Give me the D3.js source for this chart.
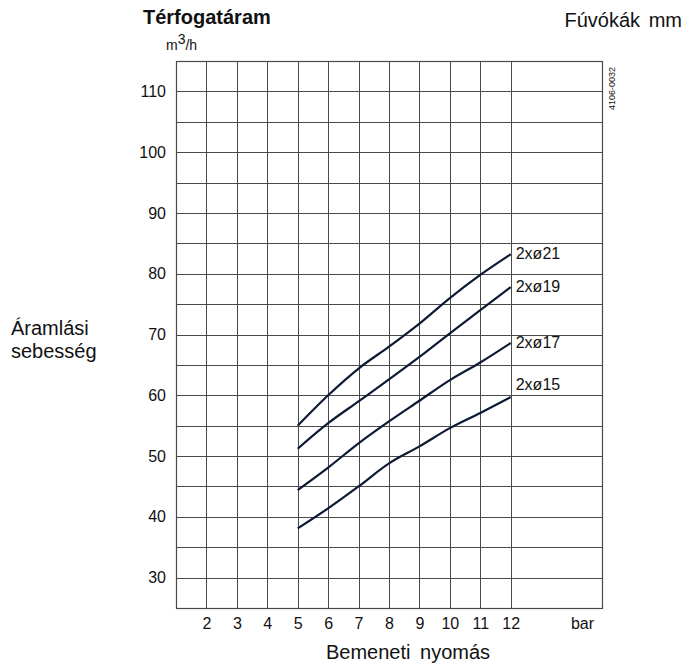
<!DOCTYPE html>
<html>
<head>
<meta charset="utf-8">
<script src="https://cdn.jsdelivr.net/npm/d3@7"></script>
<style>
  body { margin: 0; background: #fff; }
  text { font-family: "Liberation Sans", Arial, sans-serif; fill: #111; }
</style>
</head>
<body>
<svg class="chart"></svg>
<script>
// data
var pressure = [5, 6, 7, 8, 9, 10, 11, 12];
var q21 = [55.0, 60.0, 64.4, 68.0, 71.8, 76.0, 79.8, 83.2];
var q19 = [51.2, 55.4, 59.0, 62.6, 66.3, 70.2, 74.0, 77.8];
var q17 = [44.4, 48.1, 52.1, 55.7, 59.1, 62.5, 65.4, 68.6];
var q15 = [38.1, 41.4, 45.0, 48.8, 51.6, 54.6, 57.1, 59.7];
var seriesNames = ["2xø21", "2xø19", "2xø17", "2xø15"];
var xTicks = [2, 3, 4, 5, 6, 7, 8, 9, 10, 11, 12];
var yTicks = [30, 40, 50, 60, 70, 80, 90, 100, 110];

var W = 685, H = 668;
var pLeft = 176, pRight = 602, pTop = 61, pBottom = 608;

var svg = d3.select(".chart").attr("width", W).attr("height", H);

var x = d3.scaleLinear().domain([1, 15]).range([pLeft, pRight]);
var y = d3.scaleLinear().domain([25, 115]).range([pBottom, pTop]);

// grid
var grid = svg.append("g").attr("stroke", "#4a4a4a").attr("stroke-width", 1);
d3.range(2, 13).forEach(function(v){
  grid.append("line")
    .attr("x1", Math.round(x(v)) + 0.5).attr("x2", Math.round(x(v)) + 0.5)
    .attr("y1", pTop).attr("y2", pBottom);
});
d3.range(30, 115, 5).forEach(function(v){
  grid.append("line")
    .attr("x1", pLeft).attr("x2", pRight)
    .attr("y1", Math.round(y(v)) + 0.5).attr("y2", Math.round(y(v)) + 0.5);
});
svg.append("rect")
  .attr("x", pLeft + 0.5).attr("y", pTop + 0.5)
  .attr("width", pRight - pLeft).attr("height", pBottom - pTop)
  .attr("fill", "none").attr("stroke", "#4a4a4a").attr("stroke-width", 1.2);

// axes (labels only)
var yAxis = svg.append("g")
  .attr("transform", "translate(" + pLeft + ",0)")
  .call(d3.axisLeft(y).tickValues(yTicks).tickSize(0).tickPadding(10));
var xAxis = svg.append("g")
  .attr("transform", "translate(0," + pBottom + ")")
  .call(d3.axisBottom(x).tickValues(xTicks).tickSize(0).tickPadding(10));
[yAxis, xAxis].forEach(function(a){
  a.select(".domain").remove();
  a.selectAll("text").attr("font-size", 16).attr("fill", "#111")
    .attr("font-family", "Liberation Sans, Arial, sans-serif");
});
svg.append("text").attr("x", 582.5).attr("y", 629)
  .attr("text-anchor", "middle").attr("font-size", 16).text("bar");

// curves
var line = d3.line()
  .x(function(d){ return x(d[0]); })
  .y(function(d){ return y(d[1]); })
  .curve(d3.curveMonotoneX);

var all = [q21, q19, q17, q15];
all.forEach(function(vals, k){
  var pts = pressure.map(function(p, i){ return [p, vals[i]]; });
  svg.append("path")
    .attr("d", line(pts))
    .attr("fill", "none")
    .attr("stroke", "#0d1a33")
    .attr("stroke-width", 2.2);
  svg.append("text")
    .attr("x", x(12) + 5)
    .attr("y", y(vals[vals.length - 1]) + (k == 3 ? -7 : 5))
    .attr("font-size", 16)
    .text(seriesNames[k]);
});

// titles
svg.append("text").attr("x", 143).attr("y", 24)
  .attr("font-size", 20).attr("font-weight", "bold").text("Térfogatáram");
var unit = svg.append("text").attr("x", 166).attr("y", 50).attr("font-size", 14);
unit.append("tspan").text("m");
unit.append("tspan").attr("dy", -6).text("3");
unit.append("tspan").attr("dy", 6).text("/h");
svg.append("text").attr("x", 682).attr("y", 27)
  .attr("text-anchor", "end").attr("font-size", 20)
  .attr("word-spacing", 3).text("Fúvókák mm");
svg.append("text")
  .attr("transform", "translate(615,110) rotate(-90)")
  .attr("font-size", 9).text("4106-0032");
svg.append("text").attr("x", 11).attr("y", 335).attr("font-size", 20).text("Áramlási");
svg.append("text").attr("x", 11).attr("y", 358).attr("font-size", 20).text("sebesség");
svg.append("text").attr("x", 326).attr("y", 659)
  .attr("font-size", 20).attr("word-spacing", 4).text("Bemeneti nyomás");
</script>
</body>
</html>
